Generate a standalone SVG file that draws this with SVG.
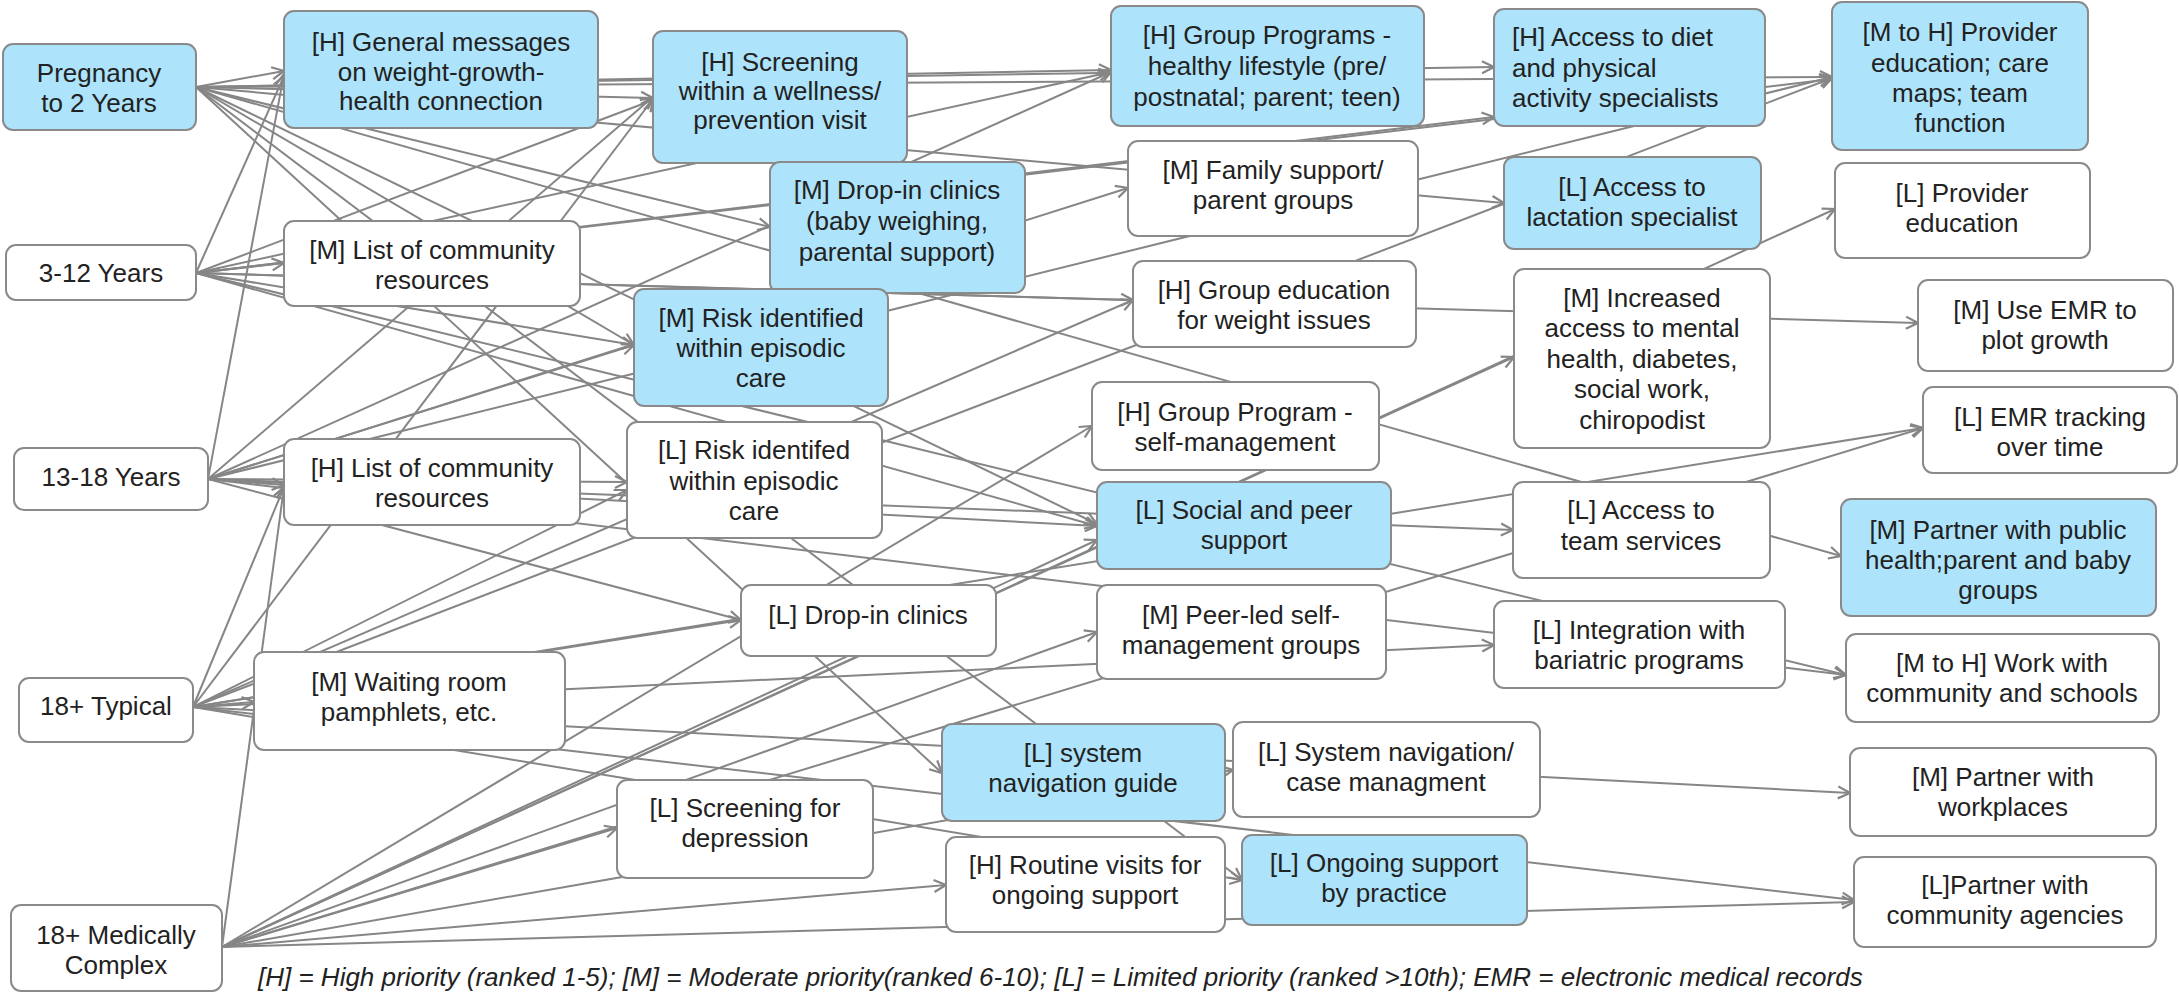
<svg xmlns="http://www.w3.org/2000/svg" width="2179" height="993" viewBox="0 0 2179 993">
<style>
#connectors line { stroke:#868686; stroke-width:2; fill:none; marker-end:url(#arr); }
.node rect { stroke:#8a8a8a; stroke-width:2; }
.b { fill:#ade4fb; }
.w { fill:#ffffff; }
text { font-family:"Liberation Sans", Arial, sans-serif; font-size:26px; fill:#222; text-anchor:middle; }
.l { text-anchor:start; }
.foot { font-style:italic; text-anchor:start; }
</style>
<defs>
<marker id="arr" markerUnits="userSpaceOnUse" markerWidth="16" markerHeight="16" viewBox="0 0 16 16" refX="14" refY="8" orient="auto">
<path d="M2,2 L14,8 L2,14" fill="none" stroke="#868686" stroke-width="2.2"/>
</marker>
</defs>
<rect x="0" y="0" width="2179" height="993" fill="#ffffff"/>
<g id="connectors">
<line x1="196" y1="87" x2="284" y2="71"/>
<line x1="196" y1="87" x2="653" y2="98"/>
<line x1="196" y1="87" x2="1111" y2="70"/>
<line x1="196" y1="87" x2="1494" y2="67"/>
<line x1="196" y1="87" x2="1832" y2="77"/>
<line x1="196" y1="87" x2="1504" y2="203"/>
<line x1="196" y1="87" x2="770" y2="227"/>
<line x1="196" y1="87" x2="1841" y2="556"/>
<line x1="196" y1="87" x2="634" y2="345"/>
<line x1="196" y1="87" x2="1097" y2="524"/>
<line x1="196" y1="87" x2="942" y2="773"/>
<line x1="196" y1="87" x2="1242" y2="880"/>
<line x1="196" y1="273" x2="284" y2="76"/>
<line x1="196" y1="273" x2="653" y2="100"/>
<line x1="196" y1="273" x2="1111" y2="72"/>
<line x1="196" y1="273" x2="284" y2="263"/>
<line x1="196" y1="273" x2="1494" y2="117"/>
<line x1="196" y1="273" x2="1832" y2="79"/>
<line x1="196" y1="273" x2="1133" y2="300"/>
<line x1="196" y1="273" x2="1918" y2="323"/>
<line x1="196" y1="273" x2="634" y2="345"/>
<line x1="196" y1="273" x2="1097" y2="526"/>
<line x1="196" y1="273" x2="1846" y2="675"/>
<line x1="208" y1="479" x2="284" y2="74"/>
<line x1="208" y1="479" x2="653" y2="97"/>
<line x1="208" y1="479" x2="1111" y2="72"/>
<line x1="208" y1="479" x2="634" y2="345"/>
<line x1="208" y1="479" x2="1128" y2="188"/>
<line x1="208" y1="479" x2="1832" y2="77"/>
<line x1="208" y1="479" x2="284" y2="485"/>
<line x1="208" y1="479" x2="627" y2="482"/>
<line x1="208" y1="479" x2="1097" y2="526"/>
<line x1="208" y1="479" x2="1513" y2="530"/>
<line x1="208" y1="479" x2="741" y2="620"/>
<line x1="208" y1="479" x2="1846" y2="675"/>
<line x1="193" y1="707" x2="653" y2="99"/>
<line x1="193" y1="707" x2="284" y2="487"/>
<line x1="193" y1="707" x2="254" y2="702"/>
<line x1="193" y1="707" x2="1133" y2="300"/>
<line x1="193" y1="707" x2="1832" y2="78"/>
<line x1="193" y1="707" x2="627" y2="490"/>
<line x1="193" y1="707" x2="741" y2="620"/>
<line x1="193" y1="707" x2="1923" y2="428"/>
<line x1="193" y1="707" x2="1494" y2="645"/>
<line x1="193" y1="707" x2="1850" y2="793"/>
<line x1="193" y1="707" x2="1242" y2="880"/>
<line x1="193" y1="707" x2="1854" y2="900"/>
<line x1="222" y1="947" x2="284" y2="487"/>
<line x1="222" y1="947" x2="617" y2="828"/>
<line x1="222" y1="947" x2="946" y2="885"/>
<line x1="222" y1="947" x2="1854" y2="902"/>
<line x1="222" y1="947" x2="1233" y2="770"/>
<line x1="222" y1="947" x2="1097" y2="632"/>
<line x1="222" y1="947" x2="1923" y2="428"/>
<line x1="222" y1="947" x2="1097" y2="540"/>
<line x1="222" y1="947" x2="1092" y2="426"/>
<line x1="222" y1="947" x2="1514" y2="357"/>
<line x1="222" y1="947" x2="1835" y2="209"/>
</g>
<g id="n-preg" class="node"><rect class="b" x="3" y="44" width="193" height="86" rx="10"/><text x="99" y="82">Pregnancy</text><text x="99" y="112">to 2 Years</text></g>
<g id="n-general" class="node"><rect class="b" x="284" y="11" width="314" height="117" rx="10"/><text x="441" y="51">[H] General messages</text><text x="441" y="81">on weight-growth-</text><text x="441" y="110">health connection</text></g>
<g id="n-screening" class="node"><rect class="b" x="653" y="31" width="254" height="132" rx="10"/><text x="780" y="71">[H] Screening</text><text x="780" y="100">within a wellness/</text><text x="780" y="129">prevention visit</text></g>
<g id="n-groupprog" class="node"><rect class="b" x="1111" y="6" width="313" height="120" rx="10"/><text x="1267" y="44">[H] Group Programs -</text><text x="1267" y="75">healthy lifestyle (pre/</text><text x="1267" y="106">postnatal; parent; teen)</text></g>
<g id="n-diet" class="node"><rect class="b" x="1494" y="9" width="271" height="117" rx="10"/><text class="l" x="1512" y="46">[H] Access to diet</text><text class="l" x="1512" y="77">and physical</text><text class="l" x="1512" y="107">activity specialists</text></g>
<g id="n-provider" class="node"><rect class="b" x="1832" y="2" width="256" height="148" rx="10"/><text x="1960" y="41">[M to H] Provider</text><text x="1960" y="72">education; care</text><text x="1960" y="102">maps; team</text><text x="1960" y="132">function</text></g>
<g id="n-age312" class="node"><rect class="w" x="6" y="245" width="190" height="55" rx="10"/><text x="101" y="282">3-12 Years</text></g>
<g id="n-mlist" class="node"><rect class="w" x="284" y="221" width="296" height="85" rx="10"/><text x="432" y="259">[M] List of community</text><text x="432" y="289">resources</text></g>
<g id="n-dropbaby" class="node"><rect class="b" x="770" y="162" width="255" height="131" rx="10"/><text x="897" y="199">[M] Drop-in clinics</text><text x="897" y="230">(baby weighing,</text><text x="897" y="261">parental support)</text></g>
<g id="n-family" class="node"><rect class="w" x="1128" y="141" width="290" height="95" rx="10"/><text x="1273" y="179">[M] Family support/</text><text x="1273" y="209">parent groups</text></g>
<g id="n-lactation" class="node"><rect class="b" x="1504" y="157" width="257" height="92" rx="10"/><text x="1632" y="196">[L] Access to</text><text x="1632" y="226">lactation specialist</text></g>
<g id="n-provedu" class="node"><rect class="w" x="1835" y="163" width="255" height="95" rx="10"/><text x="1962" y="202">[L] Provider</text><text x="1962" y="232">education</text></g>
<g id="n-mrisk" class="node"><rect class="b" x="634" y="289" width="254" height="117" rx="10"/><text x="761" y="327">[M] Risk identified</text><text x="761" y="357">within episodic</text><text x="761" y="387">care</text></g>
<g id="n-groupedu" class="node"><rect class="w" x="1133" y="261" width="283" height="86" rx="10"/><text x="1274" y="299">[H] Group education</text><text x="1274" y="329">for weight issues</text></g>
<g id="n-increased" class="node"><rect class="w" x="1514" y="269" width="256" height="179" rx="10"/><text x="1642" y="307">[M] Increased</text><text x="1642" y="337">access to mental</text><text x="1642" y="368">health, diabetes,</text><text x="1642" y="398">social work,</text><text x="1642" y="429">chiropodist</text></g>
<g id="n-useemr" class="node"><rect class="w" x="1918" y="280" width="255" height="91" rx="10"/><text x="2045" y="319">[M] Use EMR to</text><text x="2045" y="349">plot growth</text></g>
<g id="n-age1318" class="node"><rect class="w" x="14" y="448" width="194" height="62" rx="10"/><text x="111" y="486">13-18 Years</text></g>
<g id="n-hlist" class="node"><rect class="w" x="284" y="439" width="296" height="86" rx="10"/><text x="432" y="477">[H] List of community</text><text x="432" y="507">resources</text></g>
<g id="n-lrisk" class="node"><rect class="w" x="627" y="422" width="255" height="116" rx="10"/><text x="754" y="459">[L] Risk identifed</text><text x="754" y="490">within episodic</text><text x="754" y="520">care</text></g>
<g id="n-gpself" class="node"><rect class="w" x="1092" y="382" width="287" height="88" rx="10"/><text x="1235" y="421">[H] Group Program -</text><text x="1235" y="451">self-management</text></g>
<g id="n-emrtrack" class="node"><rect class="w" x="1923" y="387" width="254" height="86" rx="10"/><text x="2050" y="426">[L] EMR tracking</text><text x="2050" y="456">over time</text></g>
<g id="n-social" class="node"><rect class="b" x="1097" y="482" width="294" height="87" rx="10"/><text x="1244" y="519">[L] Social and peer</text><text x="1244" y="549">support</text></g>
<g id="n-teamsvc" class="node"><rect class="w" x="1513" y="482" width="257" height="96" rx="10"/><text x="1641" y="519">[L] Access to</text><text x="1641" y="550">team services</text></g>
<g id="n-publichealth" class="node"><rect class="b" x="1841" y="499" width="315" height="117" rx="10"/><text x="1998" y="539">[M] Partner with public</text><text x="1998" y="569">health;parent and baby</text><text x="1998" y="599">groups</text></g>
<g id="n-ldropin" class="node"><rect class="w" x="741" y="585" width="255" height="71" rx="10"/><text x="868" y="624">[L] Drop-in clinics</text></g>
<g id="n-peerled" class="node"><rect class="w" x="1097" y="585" width="289" height="94" rx="10"/><text x="1241" y="624">[M] Peer-led self-</text><text x="1241" y="654">management groups</text></g>
<g id="n-bariatric" class="node"><rect class="w" x="1494" y="601" width="291" height="87" rx="10"/><text x="1639" y="639">[L] Integration with</text><text x="1639" y="669">bariatric programs</text></g>
<g id="n-workcomm" class="node"><rect class="w" x="1846" y="634" width="313" height="88" rx="10"/><text x="2002" y="672">[M to H] Work with</text><text x="2002" y="702">community and schools</text></g>
<g id="n-age18t" class="node"><rect class="w" x="19" y="678" width="174" height="64" rx="10"/><text x="106" y="715">18+ Typical</text></g>
<g id="n-waiting" class="node"><rect class="w" x="254" y="652" width="311" height="98" rx="10"/><text x="409" y="691">[M] Waiting room</text><text x="409" y="721">pamphlets, etc.</text></g>
<g id="n-navguide" class="node"><rect class="b" x="942" y="724" width="283" height="97" rx="10"/><text x="1083" y="762">[L] system</text><text x="1083" y="792">navigation guide</text></g>
<g id="n-navcase" class="node"><rect class="w" x="1233" y="722" width="307" height="95" rx="10"/><text x="1386" y="761">[L] System navigation/</text><text x="1386" y="791">case managment</text></g>
<g id="n-workplaces" class="node"><rect class="w" x="1850" y="748" width="306" height="88" rx="10"/><text x="2003" y="786">[M] Partner with</text><text x="2003" y="816">workplaces</text></g>
<g id="n-depression" class="node"><rect class="w" x="617" y="780" width="256" height="98" rx="10"/><text x="745" y="817">[L] Screening for</text><text x="745" y="847">depression</text></g>
<g id="n-routine" class="node"><rect class="w" x="946" y="837" width="279" height="95" rx="10"/><text x="1085" y="874">[H] Routine visits for</text><text x="1085" y="904">ongoing support</text></g>
<g id="n-ongoing" class="node"><rect class="b" x="1242" y="835" width="285" height="90" rx="10"/><text x="1384" y="872">[L] Ongoing support</text><text x="1384" y="902">by practice</text></g>
<g id="n-agencies" class="node"><rect class="w" x="1854" y="857" width="302" height="90" rx="10"/><text x="2005" y="894">[L]Partner with</text><text x="2005" y="924">community agencies</text></g>
<g id="n-age18mc" class="node"><rect class="w" x="11" y="905" width="211" height="86" rx="10"/><text x="116" y="944">18+ Medically</text><text x="116" y="974">Complex</text></g>
<text class="foot" x="258" y="986">[H] = High priority (ranked 1-5); [M] = Moderate priority(ranked 6-10); [L] = Limited priority (ranked &gt;10th); EMR = electronic medical records</text>
</svg>
